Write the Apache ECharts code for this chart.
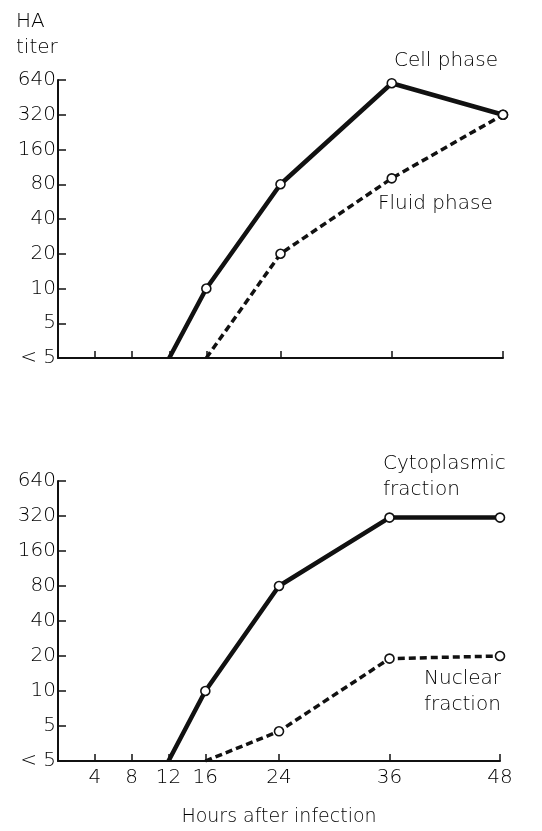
<!DOCTYPE html>
<html>
<head>
<meta charset="utf-8">
<script src="https://cdn.jsdelivr.net/npm/echarts@6/dist/echarts.min.js"></script>
<style>
  html, body { margin: 0; padding: 0; background: #fff; }
  #chart { width: 542px; height: 831px; }
</style>
</head>
<body>
<div id="chart"></div>
<script>
// titer "< 5" is drawn one doubling below 5
var BELOW_5 = 2.5;

var yTickLabels = ['< 5', '5', '10', '20', '40', '80', '160', '320', '640'];
var xTickHours = [4, 8, 12, 16, 24, 36, 48];

// upper panel
var cellHours = [12, 16, 24, 36, 48];
var cellPhase = [BELOW_5, 10, 80, 600, 320];
var fluidHours = [16, 24, 36, 48];
var fluidPhase = [BELOW_5, 20, 90, 320];

// lower panel
var cytoHours = [12, 16, 24, 36, 48];
var cytoplasmic = [BELOW_5, 10, 80, 310, 310];
var nucHours = [16, 24, 36, 48];
var nuclear = [BELOW_5, 4.5, 19, 20];

var FONT = '"DejaVu Sans"';
var WEIGHT = 200;
var INK = '#000';

function toSteps(v) {
    return Math.log(v / BELOW_5) / Math.LN2;
}

function makeData(hours, values) {
    var out = [];
    for (var i = 0; i < hours.length; i++) {
        var p = { value: [hours[i], toSteps(values[i])] };
        if (values[i] === BELOW_5) {
            p.symbol = 'none';
        }
        out.push(p);
    }
    return out;
}

function lineSeries(idx, hours, values, dashed) {
    return {
        type: 'line',
        xAxisIndex: idx,
        yAxisIndex: idx,
        data: makeData(hours, values),
        symbol: 'circle',
        symbolSize: 9,
        showAllSymbol: true,
        z: 5,
        lineStyle: {
            color: '#111',
            width: dashed ? 3.5 : 4.5,
            type: dashed ? [7, 4] : 'solid'
        },
        itemStyle: { color: '#fff', borderColor: '#111', borderWidth: 1.6 }
    };
}

function xAxis(idx, showLabels) {
    return {
        type: 'value',
        gridIndex: idx,
        min: 0,
        max: 48,
        interval: 4,
        axisLine: { lineStyle: { color: '#111', width: 2 } },
        axisTick: { inside: true, length: 7, customValues: xTickHours, lineStyle: { color: '#111', width: 1.5 } },
        axisLabel: {
            show: showLabels,
            customValues: xTickHours,
            margin: 7,
            color: INK,
            fontFamily: FONT,
            fontWeight: WEIGHT,
            fontSize: 20
        },
        splitLine: { show: false },
        name: showLabels ? 'Hours after infection' : '',
        nameLocation: 'middle',
        nameGap: 47,
        nameTextStyle: { color: INK, fontFamily: FONT, fontWeight: WEIGHT, fontSize: 19 }
    };
}

function yAxis(idx) {
    return {
        type: 'value',
        gridIndex: idx,
        min: 0,
        max: 8,
        interval: 1,
        axisLine: { show: true, lineStyle: { color: '#111', width: 2 } },
        axisTick: { show: true, inside: true, length: 8, lineStyle: { color: '#111', width: 1.5 } },
        axisLabel: {
            margin: 2,
            color: INK,
            fontFamily: FONT,
            fontWeight: WEIGHT,
            fontSize: 20,
            formatter: function(v) {
                return yTickLabels[Math.round(v)];
            }
        },
        splitLine: { show: false }
    };
}

function label(x, y, text) {
    return {
        type: 'text',
        left: x,
        top: y,
        style: {
            text: text,
            fill: INK,
            font: WEIGHT + ' 20px ' + FONT,
            lineHeight: 26
        }
    };
}

var myChart = echarts.init(document.getElementById('chart'), null, { renderer: 'canvas' });
var option = {
    animation: false,
    backgroundColor: '#fff',
    grid: [
        { left: 58, top: 80, width: 445, height: 278 },
        { left: 58, top: 481, width: 442, height: 280 }
    ],
    xAxis: [xAxis(0, false), xAxis(1, true)],
    yAxis: [yAxis(0), yAxis(1)],
    series: [
        lineSeries(0, cellHours, cellPhase, false),
        lineSeries(0, fluidHours, fluidPhase, true),
        lineSeries(1, cytoHours, cytoplasmic, false),
        lineSeries(1, nucHours, nuclear, true)
    ],
    graphic: [
        label(16, 9, 'HA\ntiter'),
        label(394, 48, 'Cell phase'),
        label(378, 191, 'Fluid phase'),
        label(383, 451, 'Cytoplasmic\nfraction'),
        label(424, 666, 'Nuclear\nfraction')
    ]
};
myChart.setOption(option);
</script>
</body>
</html>
